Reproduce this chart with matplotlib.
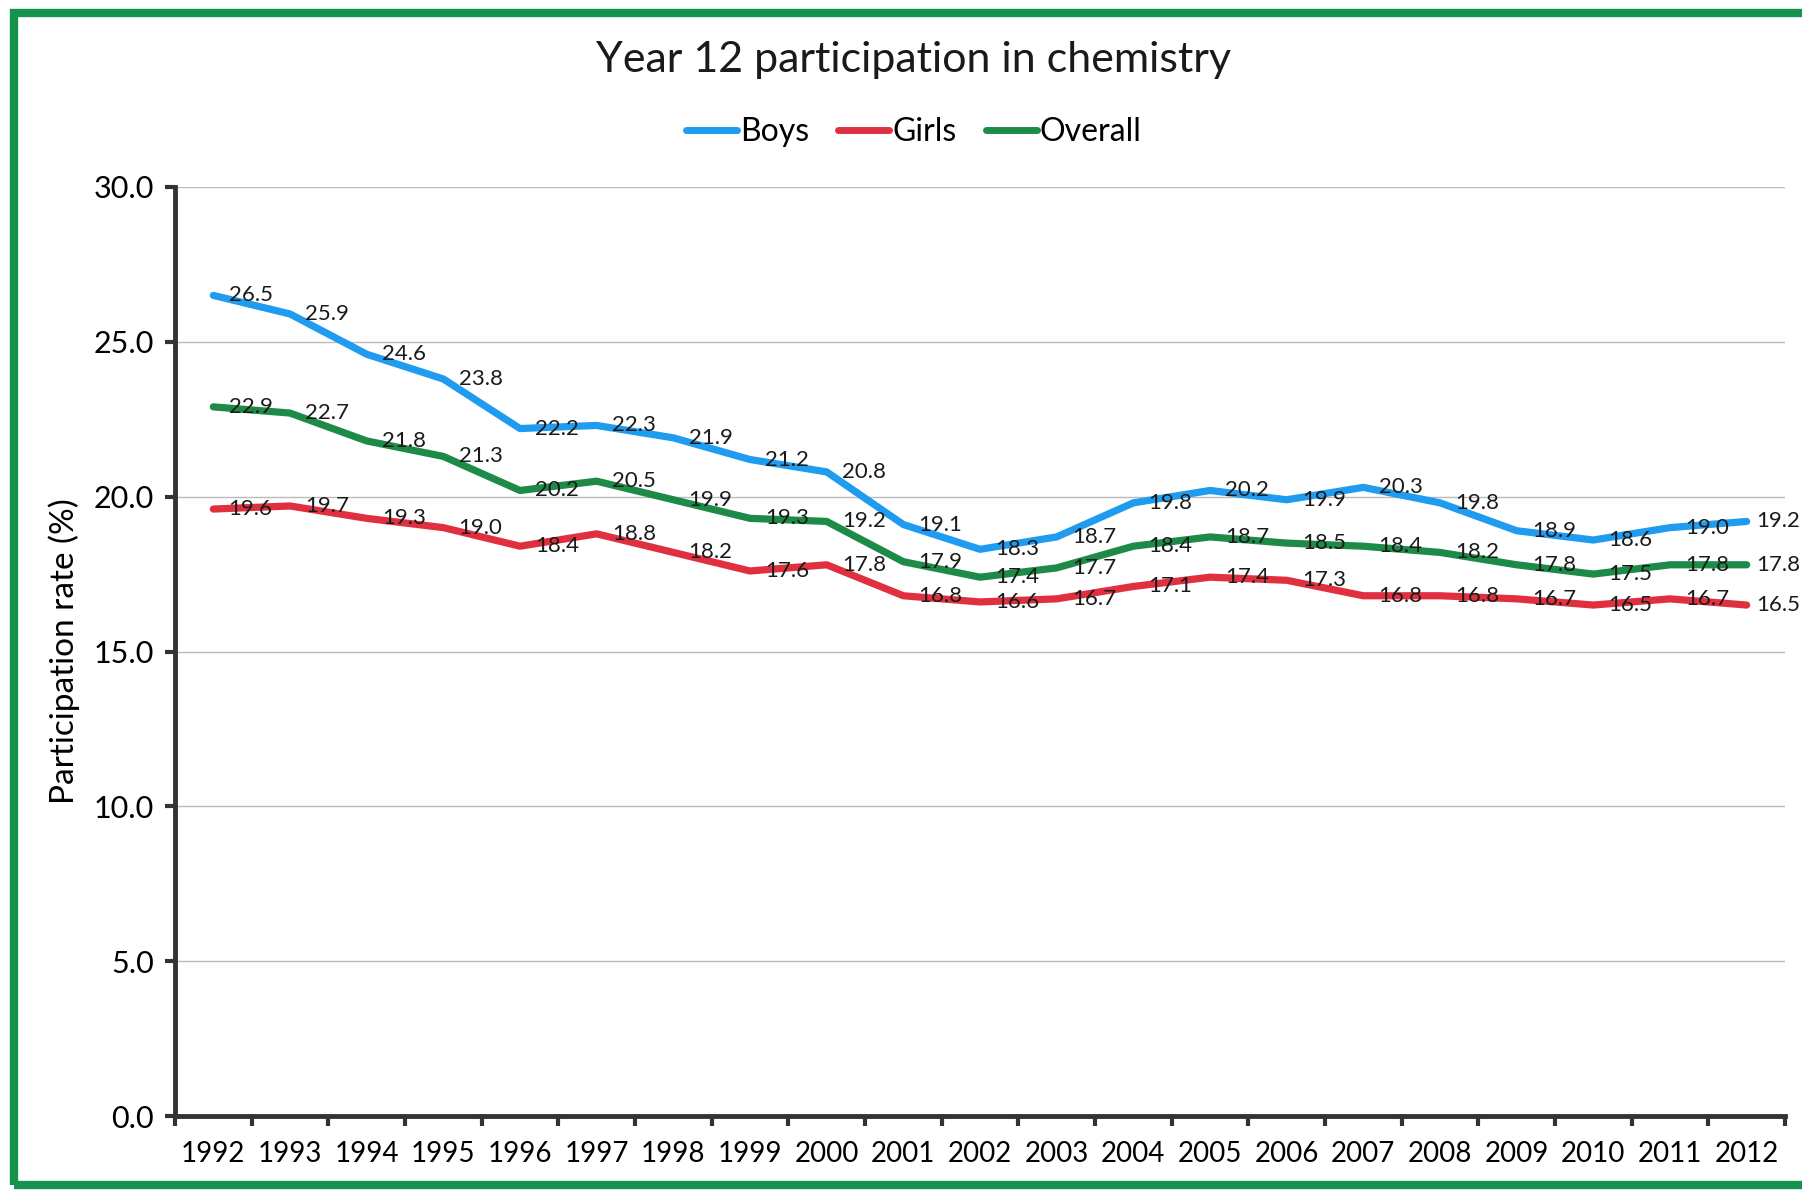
import matplotlib
matplotlib.use("Agg")
import matplotlib.pyplot as plt
from matplotlib.patches import Rectangle

years = [str(y) for y in range(1992, 2013)]
boys = [26.5, 25.9, 24.6, 23.8, 22.2, 22.3, 21.9, 21.2, 20.8, 19.1, 18.3,
        18.7, 19.8, 20.2, 19.9, 20.3, 19.8, 18.9, 18.6, 19.0, 19.2]
girls = [19.6, 19.7, 19.3, 19.0, 18.4, 18.8, 18.2, 17.6, 17.8, 16.8, 16.6,
         16.7, 17.1, 17.4, 17.3, 16.8, 16.8, 16.7, 16.5, 16.7, 16.5]
overall = [22.9, 22.7, 21.8, 21.3, 20.2, 20.5, 19.9, 19.3, 19.2, 17.9, 17.4,
           17.7, 18.4, 18.7, 18.5, 18.4, 18.2, 17.8, 17.5, 17.8, 17.8]
series_names = ["Boys", "Girls", "Overall"]
yticks = [0, 5, 10, 15, 20, 25, 30]

colors = ["#1F9BEF", "#E0303F", "#1E8A48"]
FONT = ["Lato", "DejaVu Sans"]
plt.rcParams["font.family"] = FONT

W, H = 1802, 1192
fig = plt.figure(figsize=(W / 100, H / 100), dpi=100)
fig.patch.set_facecolor("white")

# green frame
fig.patches.append(Rectangle((14 / W, 7 / H), (W + 40) / W, (H - 20) / H,
                             transform=fig.transFigure, fill=False,
                             edgecolor="#14924E", linewidth=6, zorder=0))

ax = fig.add_axes([175 / W, 1 - 1116 / H, (1785 - 175) / W, (1116 - 187) / H])
x = list(range(len(years)))
for name, vals, c in zip(series_names, [boys, girls, overall], colors):
    ax.plot(x, vals, color=c, lw=5.2, solid_capstyle="round",
            solid_joinstyle="round", label=name, zorder=3)
    for xi, v in zip(x, vals):
        off = 11 if xi < len(x) - 1 else 7
        ax.annotate(f"{v:.1f}", (xi, v), xytext=(off, 0),
                    textcoords="offset points", ha="left", va="center",
                    fontsize=16, color="#1a1a1a", zorder=4)

ax.set_xlim(-0.5, len(years) - 0.5)
ax.set_ylim(0, 30)
ax.set_yticks(yticks)
ax.set_yticklabels([f"{t:.1f}" for t in yticks], fontsize=22)
ax.yaxis.grid(True, color="#BBBBBB", lw=1.0)
ax.set_axisbelow(True)

# category axis: ticks at boundaries, labels at centres
ax.set_xticks([i - 0.5 for i in range(len(years) + 1)])
ax.set_xticklabels([])
ax.set_xticks(x, minor=True)
ax.set_xticklabels(years, minor=True, fontsize=20)
ax.tick_params(axis="x", which="minor", length=0, pad=18)
ax.tick_params(axis="x", which="major", length=7, width=3, color="#333333",
               direction="out")
ax.tick_params(axis="y", length=7, width=3, color="#333333", direction="out",
               pad=8)

for s in ["top", "right"]:
    ax.spines[s].set_visible(False)
for s in ["left", "bottom"]:
    ax.spines[s].set_linewidth(3.5)
    ax.spines[s].set_color("#333333")

ax.set_ylabel("Participation rate (%)", fontsize=24, labelpad=10)

fig.text(914 / W, 1 - 60 / H, "Year 12 participation in chemistry",
         ha="center", va="center", fontsize=31, color="#1a1a1a")

leg = fig.legend(loc="center", bbox_to_anchor=(914 / W, 1 - 132 / H),
                 ncol=3, frameon=False, fontsize=23, handlelength=1.6,
                 handletextpad=0.1, columnspacing=0.9)
for line in leg.get_lines():
    line.set_linewidth(5)

fig.savefig("out.png", dpi=100)
